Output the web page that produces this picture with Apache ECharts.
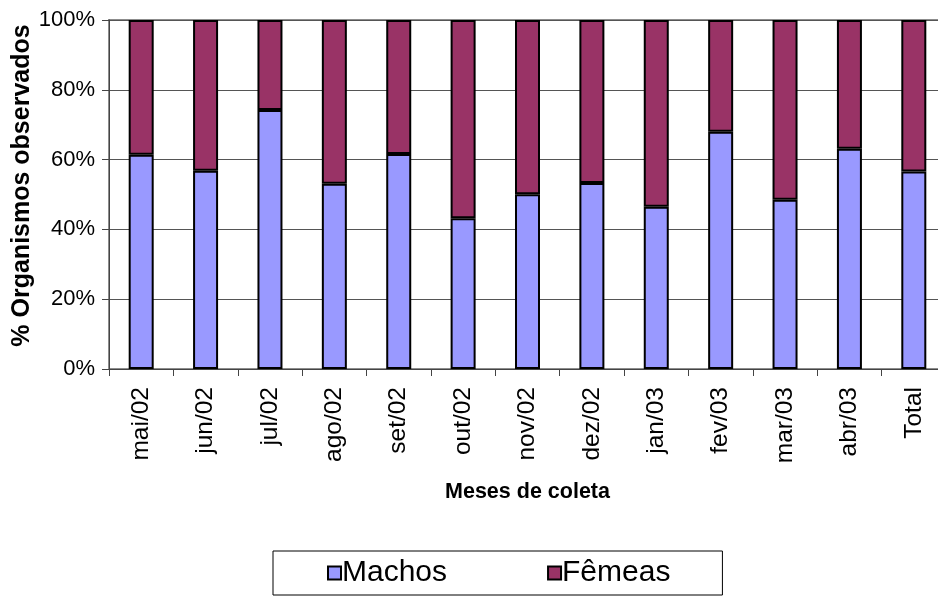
<!DOCTYPE html>
<html>
<head>
<meta charset="utf-8">
<script src="https://cdn.jsdelivr.net/npm/echarts@6/dist/echarts.min.js"></script>
<style>
  html, body { margin: 0; padding: 0; background: #fff; }
  #chart { width: 938px; height: 599px; }
</style>
</head>
<body>
<div id="chart"></div>
<script>
// Monthly sex ratio of observed organisms (percent of total)
const categories = ['mai/02', 'jun/02', 'jul/02', 'ago/02', 'set/02', 'out/02', 'nov/02',
                    'dez/02', 'jan/03', 'fev/03', 'mar/03', 'abr/03', 'Total'];
const machos = [61.4, 56.8, 74.2, 53.1, 61.6, 43.2, 50.1, 53.3, 46.5, 68.0, 48.5, 63.1, 56.6];
const femeas = [38.6, 43.2, 25.8, 46.9, 38.4, 56.8, 49.9, 46.7, 53.5, 32.0, 51.5, 36.9, 43.4];
const yTicks = [0, 20, 40, 60, 80, 100];

const FONT = '"Liberation Sans", Arial, sans-serif';

const chart = echarts.init(document.getElementById('chart'), null, { renderer: 'canvas' });

chart.setOption({
  animation: false,
  backgroundColor: '#ffffff',
  grid: {
    left: 109, right: -8, top: 20, bottom: 230,
    containLabel: false,
    outerBoundsMode: 'none',
    show: true, borderColor: '#8c8c8c', borderWidth: 2, backgroundColor: 'transparent'
  },
  legend: {
    left: 273, top: 551,
    padding: [7, 52, 7, 54],
    borderColor: '#000', borderWidth: 1,
    itemGap: 100, itemWidth: 13, itemHeight: 13,
    icon: 'rect',
    textStyle: { fontFamily: FONT, fontSize: 30, color: '#000', padding: [0, 0, 0, -4] },
    data: ['Machos', 'Fêmeas']
  },
  xAxis: {
    type: 'category',
    data: categories,
    name: 'Meses de coleta',
    nameLocation: 'middle',
    nameGap: 112,
    nameTextStyle: { fontFamily: FONT, fontSize: 21.5, fontWeight: 'bold', color: '#000' },
    axisLine: { lineStyle: { color: '#444', width: 1 } },
    axisTick: { show: true, length: 7, lineStyle: { color: '#444' } },
    axisLabel: { rotate: 90, margin: 18, fontFamily: FONT, fontSize: 24.5, color: '#000' }
  },
  yAxis: {
    type: 'value',
    min: yTicks[0], max: yTicks[yTicks.length - 1], interval: 20,
    name: '% Organismos observados',
    nameLocation: 'middle',
    nameMoveOverlap: false,
    nameGap: 74,
    nameTextStyle: { fontFamily: FONT, fontSize: 25, fontWeight: 'bold', color: '#000', padding: [0, 0, 0, 18] },
    axisLine: { show: true, lineStyle: { color: '#444', width: 1 } },
    axisTick: { show: true, length: 7, lineStyle: { color: '#444' } },
    axisLabel: { margin: 14, fontFamily: FONT, fontSize: 22, color: '#000', formatter: v => v + '%' },
    splitLine: { show: true, lineStyle: { color: '#555', width: 1 } }
  },
  series: [
    {
      name: 'Machos', type: 'bar', stack: 'total', data: machos, barWidth: 25,
      itemStyle: { color: '#9999ff', borderColor: '#000', borderWidth: 2 }
    },
    {
      name: 'Fêmeas', type: 'bar', stack: 'total', data: femeas, barWidth: 25,
      itemStyle: { color: '#993366', borderColor: '#000', borderWidth: 2 }
    }
  ]
});
</script>
</body>
</html>
